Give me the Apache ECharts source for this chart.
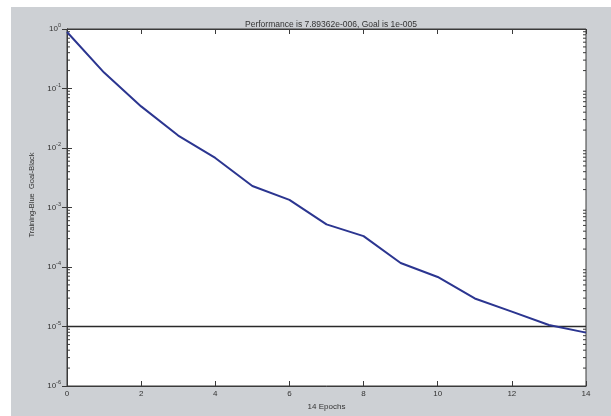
<!DOCTYPE html>
<html>
<head>
<meta charset="utf-8">
<script src="https://cdn.jsdelivr.net/npm/echarts@6/dist/echarts.min.js"></script>
<style>
html,body{margin:0;padding:0;background:#ffffff;}
#main{width:611px;height:416px;}
</style>
</head>
<body>
<div id="main"></div>
<script>
// ---- data ----
const epochs = [0, 1, 2, 3, 4, 5, 6, 7, 8, 9, 10, 11, 12, 13, 14];
const trainingPerf = [0.89, 0.185, 0.050, 0.0162, 0.0068, 0.0023, 0.00134, 0.00052, 0.00033, 0.000117, 0.000068, 0.0000296, 0.0000178, 0.0000106, 0.00000789];
const goalEpochs = [0, 14];
const goalValue = [1e-5, 1e-5];
const xTicks = [0, 2, 4, 6, 8, 10, 12, 14];
const yDecades = [1e-6, 1e-5, 1e-4, 1e-3, 1e-2, 1e-1, 1];
const titleText = 'Performance is 7.89362e-006, Goal is 1e-005';
const xName = '14 Epochs';
const yName = 'Training-Blue  Goal-Black';

// minor tick positions (log axis decoration)
const minorVals = [];
for (let d = -6; d < 0; d++) {
  for (let m = 2; m <= 9; m++) minorVals.push(m * Math.pow(10, d));
}

const chart = echarts.init(document.getElementById('main'), null, {renderer: 'canvas'});
const FONT = '"Liberation Sans", Arial, sans-serif';
const axisColor = '#3a3a3a';
const textColor = '#333333';

const supLabel = function (v) {
  const e = Math.round(Math.log10(v));
  return '{b|10}{s|' + e + '}';
};

const option = {
  backgroundColor: '#ffffff',
  animation: false,
  graphic: [{
    type: 'rect', left: 11, top: 7, z: -10,
    shape: {width: 600, height: 409},
    style: {fill: '#cdd0d4'}
  }],
  title: {
    text: titleText,
    left: 326, top: 15, textAlign: 'center',
    textStyle: {fontFamily: FONT, fontSize: 8.5, fontWeight: 'normal', color: textColor}
  },
  grid: {
    left: 67, right: 25, top: 29, bottom: 26,
    show: true, backgroundColor: '#ffffff', borderColor: axisColor, borderWidth: 1
  },
  xAxis: [{
    type: 'value', min: 0, max: 14, interval: 2, position: 'bottom',
    name: xName, nameLocation: 'middle', nameGap: 17,
    nameTextStyle: {fontFamily: FONT, fontSize: 8, color: textColor},
    axisLine: {show: true, lineStyle: {color: axisColor, width: 1}},
    axisTick: {show: true, inside: true, length: 5, lineStyle: {color: axisColor}},
    axisLabel: {fontFamily: FONT, fontSize: 8, color: textColor, margin: 4,
      customValues: xTicks},
    splitLine: {show: false}
  }, {
    type: 'value', min: 0, max: 14, interval: 2, position: 'top',
    axisLine: {show: true, lineStyle: {color: axisColor, width: 1}},
    axisTick: {show: true, inside: true, length: 5, lineStyle: {color: axisColor}},
    axisLabel: {show: false},
    splitLine: {show: false}
  }],
  yAxis: [{
    type: 'log', logBase: 10, min: 1e-6, max: 1, position: 'left',
    name: yName, nameLocation: 'middle', nameGap: 24, nameRotate: 90,
    nameTextStyle: {fontFamily: FONT, fontSize: 7.5, color: textColor, padding: [0, 0, 0, 25]},
    axisLine: {show: true, lineStyle: {color: axisColor, width: 1}},
    axisTick: {show: true, inside: true, length: 5, lineStyle: {color: axisColor}},
    axisLabel: {
      margin: 6,
      formatter: supLabel,
      rich: {
        b: {fontFamily: FONT, fontSize: 8, color: textColor},
        s: {fontFamily: FONT, fontSize: 5.5, color: textColor, padding: [0, 0, 7, 0]}
      }
    },
    splitLine: {show: false}
  }, {
    type: 'log', logBase: 10, min: 1e-6, max: 1, position: 'right',
    axisLine: {show: true, lineStyle: {color: axisColor, width: 1}},
    axisTick: {show: true, inside: true, length: 5, lineStyle: {color: axisColor}},
    axisLabel: {show: false},
    splitLine: {show: false}
  }],
  series: [{
    name: 'minorTicks', type: 'custom', silent: true, z: 1,
    xAxisIndex: 0, yAxisIndex: 0,
    data: minorVals.map(v => [0, v]),
    renderItem: function (params, api) {
      const v = api.value(1);
      const pl = api.coord([0, v]);
      const pr = api.coord([14, v]);
      return {
        type: 'group',
        children: [
          {type: 'line', shape: {x1: pl[0], y1: pl[1], x2: pl[0] + 3, y2: pl[1]}, style: {stroke: axisColor, lineWidth: 1}},
          {type: 'line', shape: {x1: pr[0], y1: pr[1], x2: pr[0] - 3, y2: pr[1]}, style: {stroke: axisColor, lineWidth: 1}}
        ]
      };
    }
  }, {
    name: 'Goal', type: 'line', symbol: 'none', z: 3,
    data: goalEpochs.map((e, i) => [e, goalValue[i]]),
    lineStyle: {color: '#2a2a2a', width: 1.5}
  }, {
    name: 'Training', type: 'line', symbol: 'none', z: 4,
    data: epochs.map((e, i) => [e, trainingPerf[i]]),
    lineStyle: {color: '#2b3590', width: 2}
  }]
};
chart.setOption(option);
</script>
</body>
</html>
